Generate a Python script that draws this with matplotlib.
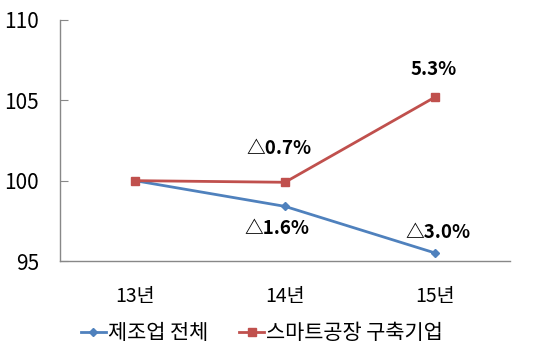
import matplotlib
matplotlib.use('Agg')
import matplotlib.pyplot as plt

plt.rcParams['font.family'] = ['Noto Sans CJK KR', 'DejaVu Sans']

years = ['13년', '14년', '15년']
total = [100, 98.4, 95.5]
smart = [100, 99.9, 105.2]
total_labels = ['', '△1.6%', '△3.0%']
smart_labels = ['', '△0.7%', '5.3%']

fig = plt.figure(figsize=(5.4, 3.6), dpi=100)
ax = fig.add_axes([60 / 540, 1 - 261 / 360, 450 / 540, 241 / 360])

x = range(len(years))
ax.plot(x, total, color='#4F81BD', lw=2, marker='D', ms=4, label='제조업 전체')
ax.plot(x, smart, color='#C0504D', lw=2, marker='s', ms=6, label='스마트공장 구축기업')

ax.set_xlim(-0.5, 2.5)
ax.set_ylim(95, 110)
ax.set_yticks([95, 100, 105, 110])
ax.set_xticks(list(x))
ax.set_xticklabels(years)
ax.tick_params(axis='y', direction='in', length=6, color='#888888', labelsize=15, pad=15)
ax.tick_params(axis='x', length=0, labelsize=14, pad=18)

for s in ['top', 'right']:
    ax.spines[s].set_visible(False)
for s in ['left', 'bottom']:
    ax.spines[s].set_color('#888888')
    ax.spines[s].set_linewidth(1)

# labels
ax.annotate(smart_labels[1], (1, smart[1]), xytext=(-4, 24), textcoords='offset points',
            ha='center', va='center', fontsize=13.5, fontweight='bold')
ax.annotate(smart_labels[2], (2, smart[2]), xytext=(-1, 20), textcoords='offset points',
            ha='center', va='center', fontsize=13.5, fontweight='bold')
ax.annotate(total_labels[1], (1, total[1]), xytext=(-6, -16), textcoords='offset points',
            ha='center', va='center', fontsize=13.5, fontweight='bold')
ax.annotate(total_labels[2], (2, total[2]), xytext=(2, 15), textcoords='offset points',
            ha='center', va='center', fontsize=13.5, fontweight='bold')

fig.legend(loc='center', bbox_to_anchor=(0.485, 1 - 333 / 360), ncol=2, frameon=False,
           fontsize=15, handlelength=1.2, handletextpad=0.1, columnspacing=1.5)

fig.savefig('out.png', dpi=100)
